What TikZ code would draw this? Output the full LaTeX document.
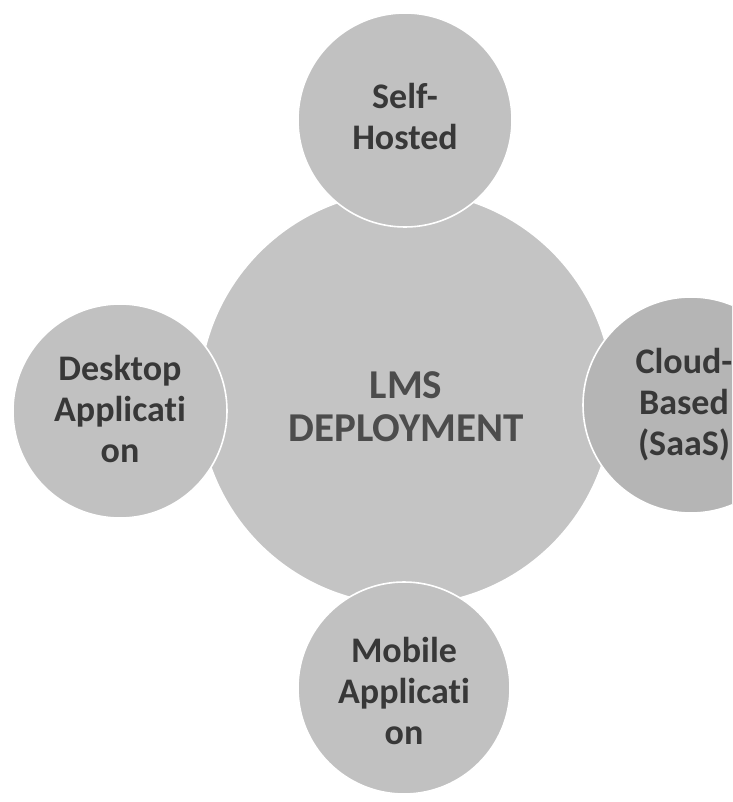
\documentclass[tikz,border=0pt]{standalone}
\usepackage{fontspec}
\setmainfont{Carlito}[Ligatures=NoCommon]
\definecolor{bubblefill}{HTML}{C1C1C1}
\definecolor{bigfill}{HTML}{C4C4C4}
\definecolor{inktext}{HTML}{383838}
\definecolor{centertext}{HTML}{4C4C4C}
\newcommand{\nolig}{\kern0pt\relax}
\begin{document}
\begin{tikzpicture}[x=1pt,y=-1pt,
  bubble/.style={circle, fill=bubblefill, draw=white, line width=1.6pt,
    inner sep=0pt},
  bubbletext/.style={inner sep=0pt, align=center, text=inktext,
    font=\fontsize{36}{41}\selectfont\bfseries},
  hub/.style={circle, fill=bigfill, draw=white, line width=1.6pt,
    inner sep=0pt},
  hubtext/.style={inner sep=0pt, align=center, text=centertext,
    font=\fontsize{41}{43}\selectfont\bfseries}]
\useasboundingbox (0,0) rectangle (732,802);
\clip (0,0) rectangle (732,802);
\fill[white] (0,0) rectangle (732,802);
\node[hub, minimum size=414pt] (hubnode) at (406,398) {};
\node[hubtext] (hublabel) at (hubnode.center) [yshift=-9pt] {LMS\\DEPLOYMENT};
\node[bubble, minimum size=214pt] (selfhosted) at (405,120) {};
\node[bubbletext] (selflabel) at (405,117) {Self-\\Hosted};
\node[bubble, minimum size=214pt] (desktop) at (120,411) {};
\node[bubbletext] (desklabel) at (120,409) {Desktop\\Applicat\nolig i\\on};
\node[bubble, minimum size=216pt, fill=bubblefill!94!black] (cloud) at (691,405) {};
\node[bubbletext] (cloudlabel) at (684,405) {Cloud-\\Based\\(SaaS)};
\node[bubble, minimum size=212pt] (mobile) at (404,688) {};
\node[bubbletext] (mobilelabel) at (404,691) {Mobile\\Applicat\nolig i\\on};
\end{tikzpicture}
\end{document}
